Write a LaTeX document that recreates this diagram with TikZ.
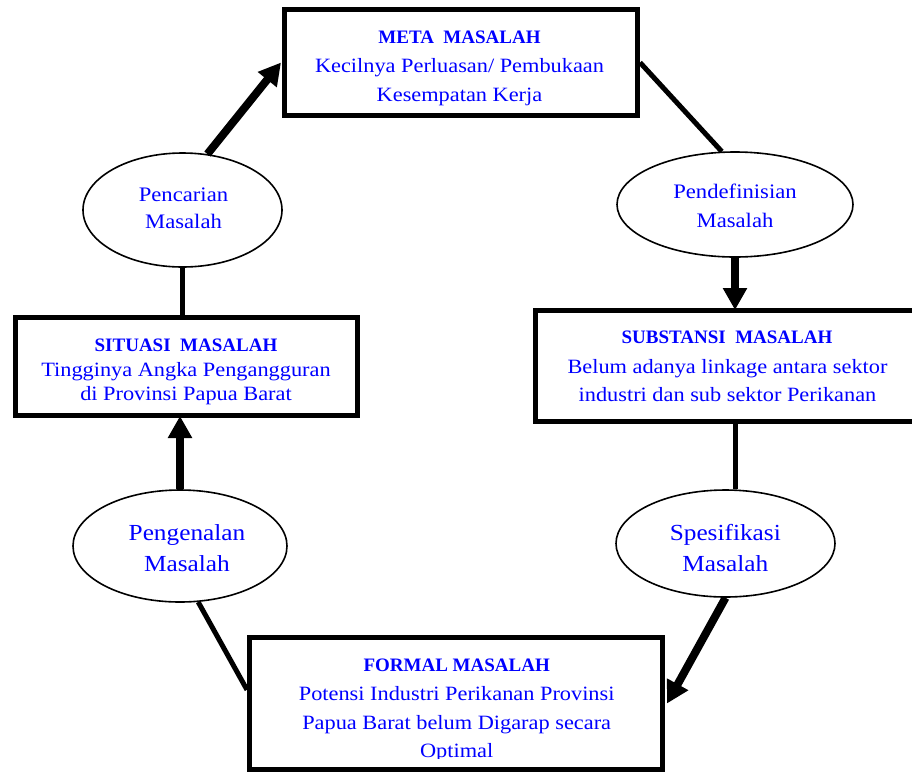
\documentclass[tikz,border=0pt]{standalone}
\usepackage{fontspec}
\setmainfont{Liberation Serif}[FakeStretch=1.1]
\newfontfamily\ttlfont{Liberation Serif}
\usetikzlibrary{shapes.geometric,arrows.meta,calc}
\begin{document}
\begin{tikzpicture}[x=1pt,y=-1pt,
  boxst/.style={draw=black,line width=5pt,rectangle,inner sep=0pt},
  ellst/.style={draw=black,line width=1.6pt,ellipse,inner sep=0pt},
  ttl/.style={text=blue,anchor=base,inner sep=0pt,font=\ttlfont\fontsize{19}{22}\selectfont\bfseries},
  bod/.style={text=blue,anchor=base,inner sep=0pt,font=\fontsize{20.3}{24}\selectfont},
  elt/.style={text=blue,anchor=base,inner sep=0pt,font=\fontsize{20.6}{24}\selectfont},
  elb/.style={text=blue,anchor=base,inner sep=0pt,font=\fontsize{23}{27}\selectfont},
  arr/.style={line width=8pt,-{Triangle[width=23pt,length=22pt]}},
  lin/.style={line width=5pt}]
\useasboundingbox (0,0) rectangle (912,774);
\fill[white] (0,0) rectangle (912,774);
\begin{scope}
\clip (0,0) rectangle (912,774);
% boxes
\node[boxst,minimum width=353pt,minimum height=106pt] (meta) at (461,62.5) {};
\node[boxst,minimum width=342pt,minimum height=98pt] (situasi) at (186.5,366.5) {};
\node[boxst,minimum width=383pt,minimum height=111pt] (substansi) at (727,366) {};
\node[boxst,minimum width=413pt,minimum height=132pt] (formal) at (456,703.5) {};
% ellipses
\node[ellst,minimum width=199pt,minimum height=114pt] (pencarian) at (182.5,210) {};
\node[ellst,minimum width=236pt,minimum height=105pt] (pendefinisian) at (735,204.5) {};
\node[ellst,minimum width=214pt,minimum height=112pt] (pengenalan) at (180,546) {};
\node[ellst,minimum width=219pt,minimum height=107pt] (spesifikasi) at (725.5,543.5) {};
\end{scope}
% box texts
\node[ttl] (metaA) at (459.5,43) {META\ \ MASALAH};
\node[bod] (metaB) at (459.5,72) {Kecilnya Perluasan/ Pembukaan};
\node[bod] (metaC) at (459.5,101) {Kesempatan Kerja};
\node[ttl] (sitA) at (186,351) {SITUASI\ \ MASALAH};
\node[bod] (sitB) at (186,376) {Tingginya Angka Pengangguran};
\node[bod] (sitC) at (186,400) {di Provinsi Papua Barat};
\node[ttl] (subA) at (727,343) {SUBSTANSI\ \ MASALAH};
\node[bod] (subB) at (727.5,373) {Belum adanya linkage antara sektor};
\node[bod] (subC) at (727.5,401) {industri dan sub sektor Perikanan};
\node[ttl] (forA) at (456.7,671) {FORMAL MASALAH};
\node[bod] (forB) at (456.7,700) {Potensi Industri Perikanan Provinsi};
\node[bod] (forC) at (456.7,729) {Papua Barat belum Digarap secara};
\begin{scope}
\clip (0,0) rectangle (912,758);
\node[bod] (forD) at (456.7,757) {Optimal};
\end{scope}
% ellipse texts
\node[elt] (pencA) at (183.5,201) {Pencarian};
\node[elt] (pencB) at (183.5,228) {Masalah};
\node[elt] (pendA) at (735,198) {Pendefinisian};
\node[elt] (pendB) at (735,227) {Masalah};
\node[elb] (pengA) at (187,540) {Pengenalan};
\node[elb] (pengB) at (187,571.5) {Masalah};
\node[elb] (spesA) at (725.3,540) {Spesifikasi};
\node[elb] (spesB) at (725.3,571.5) {Masalah};
% connectors
\draw[arr] (pencarian.66) -- ([xshift=-1pt]meta.west);
\draw[lin] (meta.east) -- (pendefinisian.104);
\draw[arr] (pendefinisian.south) -- ([yshift=-2pt]pendefinisian.south |- substansi.north);
\draw[lin] (pendefinisian.south |- substansi.south) -- (pendefinisian.south |- spesifikasi.north);
\draw[arr] (spesifikasi.south) -- ([xshift=2pt]formal.east);
\draw[lin] (pengenalan.-72) -- ($(formal.north west)!0.4!(formal.south west)$);
\draw[arr] (pengenalan.north) -- ([yshift=2pt]pengenalan.north |- situasi.south);
\draw[lin] (pencarian.south) -- (pencarian.south |- situasi.north);
\end{tikzpicture}
\end{document}
